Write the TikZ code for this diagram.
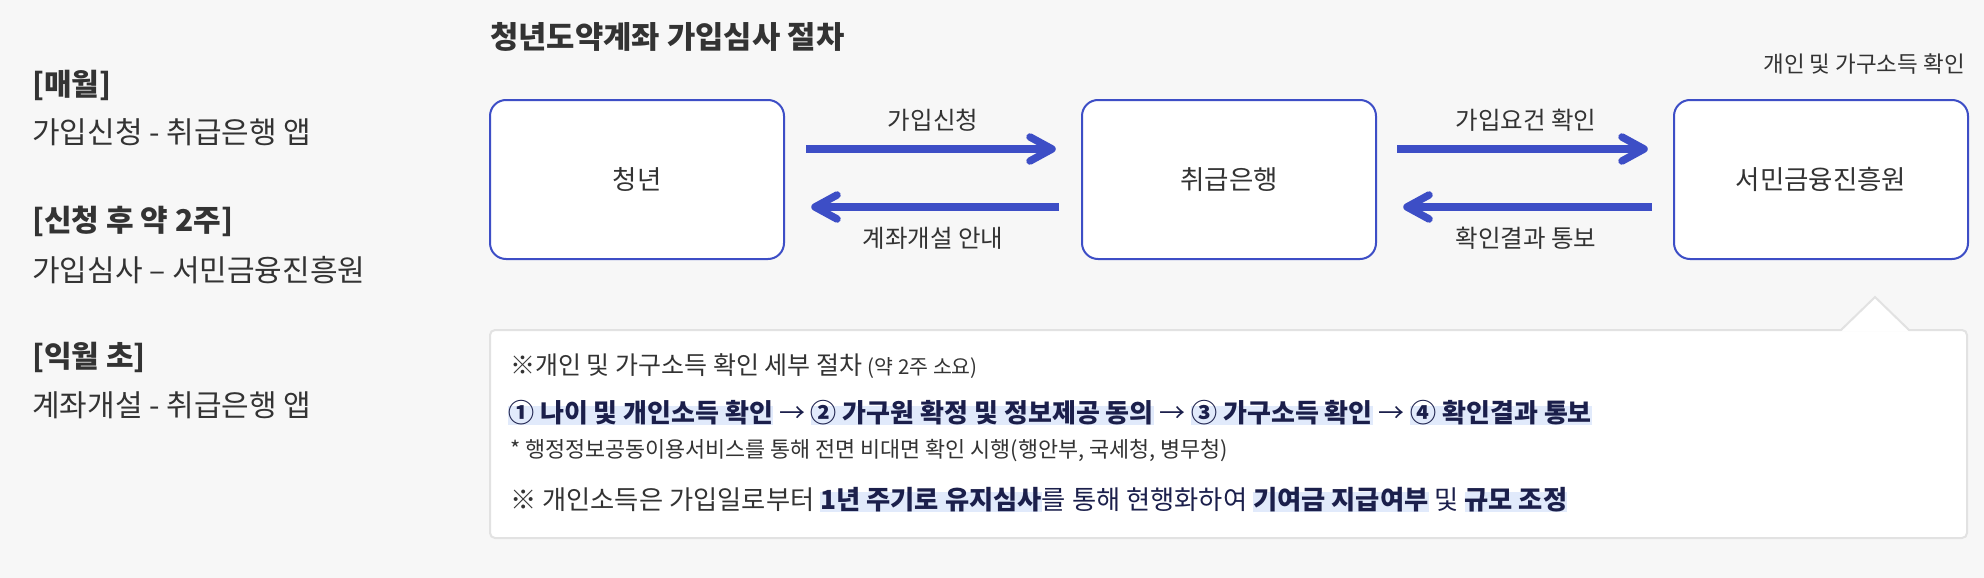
\documentclass[tikz,border=0pt]{standalone}
\usepackage{fontspec}
\setmainfont{Noto Sans CJK KR}
\usetikzlibrary{calc}
\definecolor{bgc}{HTML}{F7F7F7}
\definecolor{txt}{HTML}{333333}
\definecolor{blu}{HTML}{3D4EC6}
\definecolor{navy}{HTML}{1B1F4B}
\definecolor{hlc}{HTML}{E1EAFB}
\definecolor{gbrd}{HTML}{E2E2E2}
\newcommand\hlt[1]{\setbox0\hbox{#1}\rlap{\color{hlc}\rule[-0.08em]{\wd0}{0.74em}}\box0\relax}
\newcommand\fs[1]{\fontsize{#1}{#1}\selectfont}
\tikzset{
  stage/.style={draw=blu, line width=2pt, fill=white, rounded corners=16pt,
    minimum width=294pt, minimum height=159pt, inner sep=0pt, text=txt, font=\fs{26.5}},
  lbl/.style={inner sep=0pt, text=txt, font=\fs{24.5}},
  lefthead/.style={inner sep=0pt, anchor=west, text=txt, font=\fs{30}\bfseries},
  lefttxt/.style={inner sep=0pt, anchor=west, text=txt, font=\fs{30}},
  dline/.style={inner sep=0pt, anchor=west, text=txt},
  shaft/.style={draw=blu, line width=7.5pt},
  chev/.style={draw=blu, line width=7.5pt, line cap=round, line join=round},
}
\begin{document}
\begin{tikzpicture}[x=1pt,y=-1pt]
\fill[bgc] (0,0) rectangle (1984,578);
\useasboundingbox (0,0) rectangle (1984,578);

% left column
\node[lefthead] (h1) at (32,85) {[매월]};
\node[lefttxt] (t1) at (32,132) {가입신청 - 취급은행 앱};
\node[lefthead] (h2) at (32,221) {[신청 후 약 2주]};
\node[lefttxt] (t2) at (32,270) {가입심사 – 서민금융진흥원};
\node[lefthead] (h3) at (32,357) {[익월 초]};
\node[lefttxt] (t3) at (32,405) {계좌개설 - 취급은행 앱};

% title
\node[inner sep=0pt, anchor=west, text=txt, font=\fs{30.8}\bfseries] (title) at (490,37) {청년도약계좌 가입심사 절차};

% stages
\node[stage] (b1) at (637,179.5) {청년};
\node[stage] (b2) at (1229,179.5) {취급은행};
\node[stage] (b3) at (1821,179.5) {서민금융진흥원};

\node[inner sep=0pt, anchor=east, text=txt, font=\fs{22.5}] (note) at (1965,64) {개인 및 가구소득 확인};

% arrows
\coordinate (a1s) at ($(b1.east)+(21,-30.5)$);
\coordinate (a1e) at ($(b2.west)+(-29,-30.5)$);
\coordinate (a2s) at ($(b2.west)+(-22,27.5)$);
\coordinate (a2e) at ($(b1.east)+(30,27.5)$);
\coordinate (a3s) at ($(b2.east)+(20,-30.5)$);
\coordinate (a3e) at ($(b3.west)+(-29,-30.5)$);
\coordinate (a4s) at ($(b3.west)+(-21,27.5)$);
\coordinate (a4e) at ($(b2.east)+(30,27.5)$);
\draw[shaft] (a1s) -- ($(a1e)+(-2,0)$);
\draw[chev] ($(a1e)+(-22,-12)$) -- (a1e) -- ($(a1e)+(-22,12)$);
\draw[shaft] (a2s) -- ($(a2e)+(2,0)$);
\draw[chev] ($(a2e)+(22,-12)$) -- (a2e) -- ($(a2e)+(22,12)$);
\draw[shaft] (a3s) -- ($(a3e)+(-2,0)$);
\draw[chev] ($(a3e)+(-22,-12)$) -- (a3e) -- ($(a3e)+(-22,12)$);
\draw[shaft] (a4s) -- ($(a4e)+(2,0)$);
\draw[chev] ($(a4e)+(22,-12)$) -- (a4e) -- ($(a4e)+(22,12)$);

\node[lbl] (l1) at (933,120) {가입신청};
\node[lbl] (l2) at (933,238) {계좌개설 안내};
\node[lbl] (l3) at (1526,120) {가입요건 확인};
\node[lbl] (l4) at (1526,238) {확인결과 통보};

% detail box
\node[draw=gbrd, line width=2pt, fill=white, rounded corners=5pt, minimum width=1477pt,
  minimum height=208pt, inner sep=0pt] (detail) at (1228.5,434) {};
\fill[white] (1841,331.5) -- (1875,297) -- (1909,331.5) -- cycle;
\draw[gbrd, line width=2pt, line join=miter] (1841,330) -- (1875,297) -- (1909,330);

\node[dline, font=\fs{25}] (d1) at (510,366) {※개인 및 가구소득 확인 세부 절차 {\fs{20.5}(약 2주 소요)}};
\node[dline, font=\fs{26}] (d2) at (508,413) {\hlt{\color{navy}\bfseries ① 나이 및 개인소득 확인} → \hlt{\color{navy}\bfseries ② 가구원 확정 및 정보제공 동의} → \hlt{\color{navy}\bfseries ③ 가구소득 확인} → \hlt{\color{navy}\bfseries ④ 확인결과 통보}};
\node[dline, font=\fs{21.8}] (d3) at (510,451) {* 행정정보공동이용서비스를 통해 전면 비대면 확인 시행(행안부, 국세청, 병무청)};
\node[dline, font=\fs{26.3}] (d4) at (510,500) {※ 개인소득은 가입일로부터 \hlt{\color{navy}\bfseries 1년 주기로 유지심사}를 통해 현행화하여 \hlt{\color{navy}\bfseries 기여금 지급여부} 및 \hlt{\color{navy}\bfseries 규모 조정}};
\end{tikzpicture}
\end{document}
